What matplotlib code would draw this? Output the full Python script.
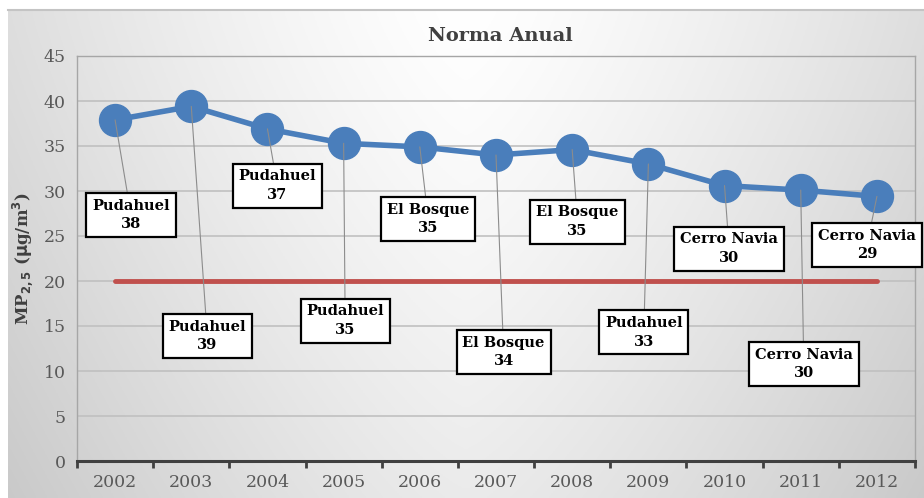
import numpy as np
import matplotlib
matplotlib.use("Agg")
import matplotlib.pyplot as plt

# ---- data ----
years = ["2002", "2003", "2004", "2005", "2006", "2007", "2008", "2009", "2010", "2011", "2012"]
values = [37.9, 39.4, 36.9, 35.3, 34.9, 34.0, 34.6, 33.0, 30.6, 30.1, 29.4]
stations = ["Pudahuel", "Pudahuel", "Pudahuel", "Pudahuel", "El Bosque", "El Bosque",
            "El Bosque", "Pudahuel", "Cerro Navia", "Cerro Navia", "Cerro Navia"]
label_values = [38, 39, 37, 35, 35, 34, 35, 33, 30, 30, 29]
norma = [20] * len(years)
yticks = [0, 5, 10, 15, 20, 25, 30, 35, 40, 45]

# ---- layout of label boxes (data coords) ----
label_x = [0.21, 1.21, 2.13, 3.02, 4.11, 5.10, 6.07, 6.94, 8.06, 9.04, 9.87]
label_y = [27.3, 13.9, 30.6, 15.6, 26.9, 12.1, 26.6, 14.3, 23.6, 10.8, 24.0]

W, H = 924, 498
fig = plt.figure(figsize=(W / 100, H / 100), dpi=100)
fig.patch.set_facecolor("white")

# background gradient
bg = fig.add_axes([8 / W, 0, 1 - 8 / W, (H - 10) / H])
xs = np.linspace(0, 1, 400)
ys = np.linspace(0, 1, 200)
X, Y = np.meshgrid(xs, ys)
g = 1 - 0.13 * (np.abs(X - 0.5) * 2) ** 1.3 - 0.08 * (1 - Y) ** 1.2
g = np.clip(g, 0, 1)
bg.imshow(np.dstack([g, g, g]), aspect="auto", extent=[0, 1, 0, 1], origin="lower")
bg.set_axis_off()
bg.plot([0, 1], [1, 1], color="#c4c4c4", lw=1.5, transform=bg.transAxes, clip_on=False)

left, right, top, bottom = 77, 915, 56, 461
ax = fig.add_axes([left / W, (H - bottom) / H, (right - left) / W, (bottom - top) / H])
ax.set_facecolor("none")
x = np.arange(len(years))
ax.set_xlim(-0.5, len(years) - 0.5)
ax.set_ylim(0, 45)

ax.set_yticks(yticks)
ax.yaxis.grid(True, color="#c0c0c0", lw=1.2)
ax.set_axisbelow(True)
ax.tick_params(axis="y", length=0, pad=8, labelsize=12.5, labelcolor="#595959")
ax.set_xticks(x)
ax.set_xticklabels(years)
ax.tick_params(axis="x", which="major", length=0, pad=9, labelsize=12.5, labelcolor="#595959")
ax.set_xticks(np.arange(-0.5, len(years)), minor=True)
ax.tick_params(axis="x", which="minor", length=5, width=2, color="#404040", direction="out")
for lab in ax.get_xticklabels() + ax.get_yticklabels():
    lab.set_family("DejaVu Serif")

for s in ["left", "top", "right"]:
    ax.spines[s].set_color("#a6a6a6")
    ax.spines[s].set_linewidth(1)
ax.spines["bottom"].set_color("#404040")
ax.spines["bottom"].set_linewidth(2.2)

ax.plot(x, norma, color="#c0504d", lw=3.5, solid_capstyle="round", zorder=3)
ax.plot(x, values, color="#4a7ebb", lw=4, marker="o", markersize=23,
        markerfacecolor="#4a7ebb", markeredgecolor="#4a7ebb", zorder=4)

for i in range(len(years)):
    ax.annotate(f"{stations[i]}\n{label_values[i]}", xy=(x[i], values[i]),
                xytext=(label_x[i], label_y[i]), ha="center", va="center",
                fontsize=10.5, fontweight="bold", family="DejaVu Serif",
                linespacing=1.4, color="black", zorder=6, annotation_clip=False,
                bbox=dict(boxstyle="square,pad=0.4", fc="white", ec="black", lw=1.6),
                arrowprops=dict(arrowstyle="-", color="#8c8c8c", lw=0.8,
                                shrinkA=0, shrinkB=0))

ax.set_ylabel(r"MP$_{\mathbf{2,5}}$ ($\mathbf{\mu}$g/m$^{\mathbf{3}}$)", fontsize=12,
              fontweight="bold", family="DejaVu Serif", color="#404040", labelpad=6)
fig.text(500 / W, 1 - 36 / H, "Norma Anual", ha="center", va="center", fontsize=14,
         fontweight="bold", family="DejaVu Serif", color="#404040")

fig.savefig("out.png", dpi=100)
